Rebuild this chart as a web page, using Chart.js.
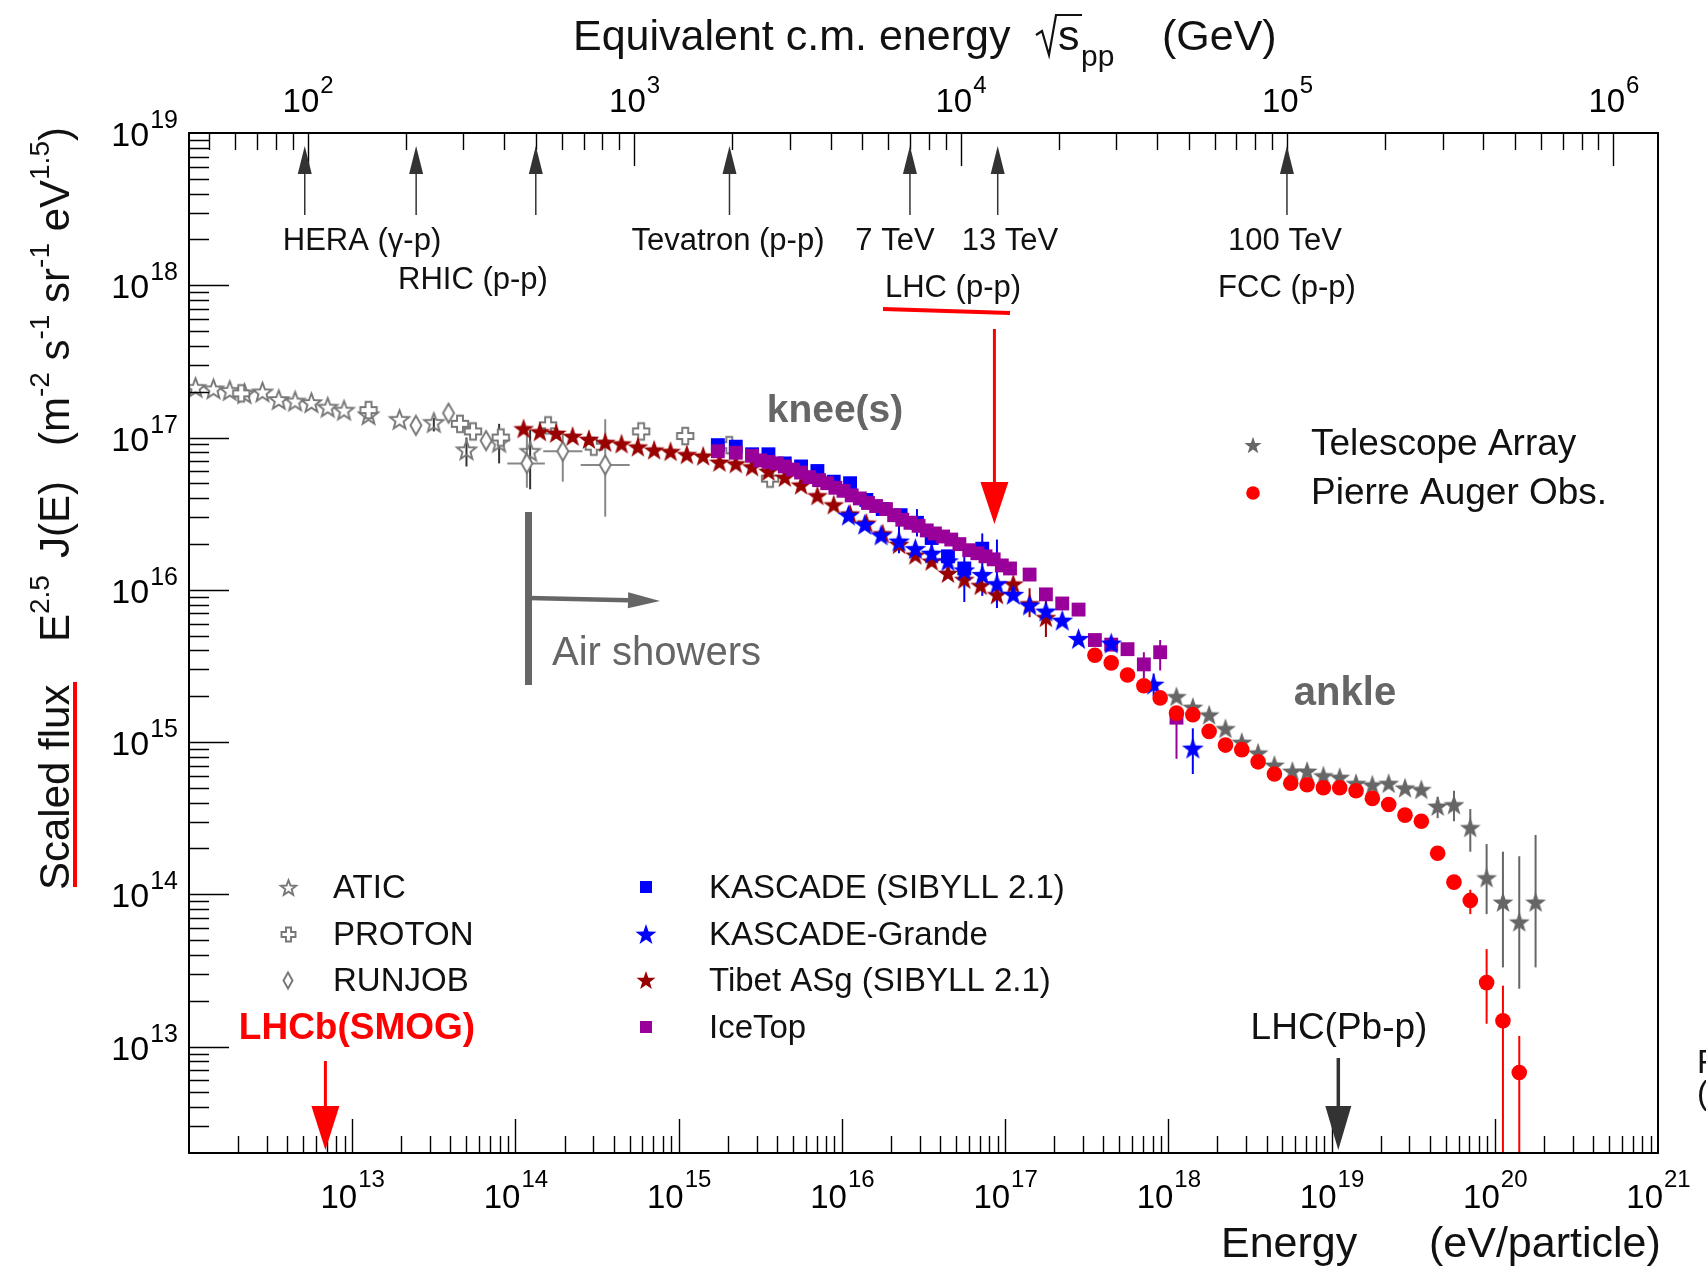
<!DOCTYPE html>
<html><head><meta charset="utf-8">
<script src="https://cdn.jsdelivr.net/npm/chart.js@4.4.1/dist/chart.umd.min.js"></script>
<style>html,body{margin:0;padding:0;background:#fff;}#wrap{width:1706px;height:1280px;position:relative;}</style>
</head><body><div id="wrap"><canvas id="c"></canvas></div>
<script>
const FONT = "'Liberation Sans', Arial, Helvetica, sans-serif";

// ---------- data: log10(E / eV) and log10(E^2.5 J(E)) ----------
const aticLogE = [12.04,12.15,12.25,12.34,12.45,12.55,12.65,12.75,12.85,12.95,13.10,13.29,13.50,13.70,13.90,14.09];
const aticLogF = [17.33,17.32,17.31,17.29,17.30,17.25,17.24,17.23,17.20,17.18,17.15,17.12,17.10,16.92,16.97,16.91];
const aticErrLogE = [13.50,13.70,13.90,14.09];
const aticErrLo  = [17.04,16.81,16.83,16.66];
const aticErrHi  = [17.13,17.00,17.09,17.05];

const protonLogE = [12.32,13.10,13.66,13.74,13.91,14.20,14.48,14.77,15.04,15.31,15.56];
const protonLogF = [17.29,17.18,17.09,17.04,17.00,17.08,16.94,17.04,17.01,16.95,16.73];

const runjobLogE = [13.39,13.59,13.82,14.07,14.29,14.55];
const runjobLogF = [17.08,17.16,16.98,16.83,16.91,16.82];
const runjobErrLogE = [13.82,14.07,14.29,14.55];
const runjobErrLo  = [16.93,16.67,16.71,16.48];
const runjobErrHi  = [17.04,17.01,17.04,17.12];
const runjobXErrLogF = [16.83,16.91,16.82];
const runjobXErrLo   = [13.95,14.17,14.40];
const runjobXErrHi   = [14.18,14.41,14.70];

const tibetLogE = [14.05,14.15,14.25,14.35,14.45,14.55,14.65,14.75,14.85,14.95,15.05,15.15,15.25,15.35,15.45,15.55,15.65,15.75,15.85,15.95,16.05,16.15,16.25,16.35,16.45,16.55,16.65,16.75,16.85,16.95,17.05,17.15,17.25];
const tibetLogF = [17.06,17.04,17.03,17.01,16.99,16.97,16.96,16.94,16.92,16.91,16.89,16.88,16.84,16.83,16.81,16.78,16.74,16.69,16.62,16.56,16.50,16.44,16.37,16.30,16.23,16.19,16.11,16.07,16.03,15.97,16.04,15.91,15.82];
const tibetErrLogE = [17.15,17.25];
const tibetErrLo  = [15.82,15.69];
const tibetErrHi  = [16.01,16.00];

const kascadeLogE = [15.24,15.35,15.45,15.55,15.65,15.75,15.85,15.95,16.05,16.15,16.25,16.36,16.46,16.55,16.65,16.75,16.86];
const kascadeLogF = [16.95,16.94,16.89,16.89,16.83,16.81,16.78,16.71,16.70,16.59,16.53,16.49,16.44,16.34,16.22,16.14,16.27];
const kascadeErrLogE = [16.46,16.55,16.86];
const kascadeErrLo  = [16.35,16.28,15.96];
const kascadeErrHi  = [16.53,16.42,16.37];

const grandeLogE = [16.04,16.14,16.24,16.35,16.45,16.55,16.65,16.75,16.86,16.95,17.05,17.15,17.25,17.35,17.45,17.65,17.91,18.15];
const grandeLogF = [16.49,16.43,16.36,16.32,16.27,16.24,16.19,16.13,16.10,16.04,15.97,15.90,15.86,15.80,15.68,15.65,15.38,14.96];
const grandeErrLogE = [16.35,16.75,16.95,17.91,18.15];
const grandeErrLo  = [16.24,15.92,15.88,15.30,14.79];
const grandeErrHi  = [16.42,16.31,16.33,15.45,15.09];

const icetopLogE = [15.24,15.35,15.45,15.50,15.55,15.60,15.65,15.70,15.75,15.80,15.86,15.91,15.96,16.01,16.06,16.11,16.16,16.21,16.27,16.32,16.37,16.42,16.47,16.52,16.57,16.62,16.67,16.72,16.78,16.83,16.88,16.93,16.98,17.03,17.15,17.25,17.35,17.45,17.55,17.65,17.75,17.85,17.95,18.05];
const icetopLogF = [16.91,16.90,16.88,16.85,16.84,16.83,16.81,16.79,16.77,16.74,16.72,16.70,16.67,16.65,16.62,16.60,16.57,16.55,16.53,16.49,16.46,16.44,16.42,16.39,16.37,16.35,16.33,16.30,16.26,16.24,16.22,16.20,16.16,16.14,16.10,15.97,15.91,15.87,15.67,15.64,15.61,15.51,15.59,15.16];
const icetopErrLogE = [17.85,17.95,18.05];
const icetopErrLo  = [15.42,15.47,14.89];
const icetopErrHi  = [15.59,15.67,15.20];

const taLogE = [18.05,18.15,18.25,18.35,18.45,18.55,18.65,18.76,18.85,18.95,19.05,19.15,19.25,19.35,19.45,19.55,19.65,19.75,19.85,19.95,20.05,20.15,20.25];
const taLogF = [15.30,15.23,15.18,15.09,15.00,14.93,14.85,14.81,14.81,14.78,14.77,14.73,14.72,14.73,14.70,14.69,14.58,14.59,14.44,14.11,13.95,13.82,13.95];
const taErrLogE = [19.65,19.75,19.85,19.95,20.05,20.15,20.25];
const taErrLo  = [14.50,14.48,14.28,13.87,13.52,13.38,13.52];
const taErrHi  = [14.64,14.68,14.56,14.33,14.28,14.25,14.39];

const augerLogE = [17.55,17.65,17.75,17.85,17.95,18.05,18.15,18.25,18.35,18.45,18.55,18.65,18.75,18.85,18.95,19.05,19.15,19.25,19.35,19.45,19.55,19.65,19.75,19.85,19.95,20.05,20.15];
const augerLogF = [15.57,15.52,15.44,15.37,15.29,15.19,15.18,15.07,14.98,14.95,14.87,14.79,14.73,14.72,14.70,14.70,14.68,14.63,14.59,14.52,14.48,14.27,14.08,13.96,13.42,13.17,12.83];
const augerErrLogE = [19.85,19.95,20.05,20.15];
const augerErrLo  = [13.87,13.15,12.00,12.00];
const augerErrHi  = [14.03,13.64,13.40,13.07];

// axis tick labels (exponents of 10)
const xTickExps = [13,14,15,16,17,18,19,20,21];
const yTickExps = [13,14,15,16,17,18,19];
const topTickExps = [2,3,4,5,6];

// collider reference energies (sqrt(s) in GeV) and special energies (eV)
const accelSqrtS = [98, 215, 500, 1960, 7000, 13000, 100000];
const lhcArrowE = 8.6e16, smogArrowE = 6.85e12, pbpArrowE = 1.1e19;

const SQS = E => Math.sqrt(2 * 0.938 * E / 1e9); // equivalent c.m. energy (GeV) for energy E (eV)
const pts = (le, lf) => le.map((v, i) => ({x: Math.pow(10, v), y: Math.pow(10, lf[i])}));

// ---------- marker images ----------
function mk(w, h, f){ const c = document.createElement('canvas'); c.width = w; c.height = h; f(c.getContext('2d'), w, h); return c; }
function starPath(g, cx, cy, R, r){ g.beginPath(); for (let i = 0; i < 10; i++){ const a = -Math.PI/2 + i*Math.PI/5, q = i % 2 ? r : R; g.lineTo(cx + q*Math.cos(a), cy + q*Math.sin(a)); } g.closePath(); }
function fStar(col, R){ const s = Math.ceil(2*R + 4); return mk(s, s, (g, w, h) => { starPath(g, w/2, h/2 + R*0.095, R, R*0.4); g.fillStyle = col; g.fill(); }); }
function oStar(col, R){ const s = Math.ceil(2*R + 5); return mk(s, s, (g, w, h) => { starPath(g, w/2, h/2 + R*0.095, R, R*0.42); g.strokeStyle = col; g.lineWidth = 1.9; g.stroke(); }); }
function oCross(col, a){ const s = Math.ceil(2*a + 5); return mk(s, s, (g, w, h) => { const cx = w/2, cy = h/2, b = a*0.36; g.beginPath();
  [[-b,-a],[b,-a],[b,-b],[a,-b],[a,b],[b,b],[b,a],[-b,a],[-b,b],[-a,b],[-a,-b],[-b,-b]].forEach(p => g.lineTo(cx + p[0], cy + p[1])); g.closePath();
  g.fillStyle = '#fff'; g.fill(); g.strokeStyle = col; g.lineWidth = 1.9; g.stroke(); }); }
function oDiam(col, a, b){ return mk(Math.ceil(2*a + 5), Math.ceil(2*b + 5), (g, w, h) => { const cx = w/2, cy = h/2; g.beginPath(); g.moveTo(cx, cy - b); g.lineTo(cx + a, cy); g.lineTo(cx, cy + b); g.lineTo(cx - a, cy); g.closePath();
  g.fillStyle = '#fff'; g.fill(); g.strokeStyle = col; g.lineWidth = 1.9; g.stroke(); }); }

const C = {atic:'#777777', tibet:'#990000', kascade:'#0000ff', icetop:'#990099', ta:'#666666', auger:'#ff0000'};
const imgAtic = oStar(C.atic, 10), imgProton = oCross(C.atic, 8.2), imgRunjob = oDiam(C.atic, 5.5, 9.5);
const imgTibet = fStar(C.tibet, 11), imgGrande = fStar(C.kascade, 11.5), imgTA = fStar(C.ta, 11);
const lgAtic = oStar(C.atic, 8), lgProton = oCross(C.atic, 7), lgRunjob = oDiam(C.atic, 4.5, 8);
const lgGrande = fStar(C.kascade, 11), lgTibet = fStar(C.tibet, 10), lgTA = fStar(C.ta, 9);

function ds(label, data, style, radius, color, order){ return {label, data, pointStyle: style, pointRadius: radius, pointHoverRadius: radius, backgroundColor: color, borderColor: color, borderWidth: 0, showLine: false, order}; }
const datasets = [
  ds('ATIC', pts(aticLogE, aticLogF), imgAtic, 10, C.atic, 9),
  ds('PROTON', pts(protonLogE, protonLogF), imgProton, 8, C.atic, 8),
  ds('RUNJOB', pts(runjobLogE, runjobLogF), imgRunjob, 8, C.atic, 7),
  ds('Tibet ASg (SIBYLL 2.1)', pts(tibetLogE, tibetLogF), imgTibet, 11, C.tibet, 6),
  ds('KASCADE (SIBYLL 2.1)', pts(kascadeLogE, kascadeLogF), 'rect', 9.8, C.kascade, 5),
  ds('IceTop', pts(icetopLogE, icetopLogF), 'rect', 9.8, C.icetop, 4),
  ds('KASCADE-Grande', pts(grandeLogE, grandeLogF), imgGrande, 11, C.kascade, 3),
  ds('Telescope Array', pts(taLogE, taLogF), imgTA, 11, C.ta, 2),
  ds('Pierre Auger Obs.', pts(augerLogE, augerLogF), 'circle', 7.8, C.auger, 1)
];

const errSets = [
  [aticErrLogE, aticErrLo, aticErrHi, '#333333'],
  [runjobErrLogE, runjobErrLo, runjobErrHi, '#888888'],
  [tibetErrLogE, tibetErrLo, tibetErrHi, C.tibet],
  [kascadeErrLogE, kascadeErrLo, kascadeErrHi, C.kascade],
  [grandeErrLogE, grandeErrLo, grandeErrHi, C.kascade],
  [icetopErrLogE, icetopErrLo, icetopErrHi, C.icetop],
  [taErrLogE, taErrLo, taErrHi, C.ta],
  [augerErrLogE, augerErrLo, augerErrHi, C.auger]
];

function arrow(ctx, x1, y1, x2, y2, col, lw, hl, hw){
  const a = Math.atan2(y2 - y1, x2 - x1), bx = x2 - hl*Math.cos(a), by = y2 - hl*Math.sin(a);
  ctx.strokeStyle = col; ctx.lineWidth = lw; ctx.beginPath(); ctx.moveTo(x1, y1); ctx.lineTo(bx, by); ctx.stroke();
  ctx.fillStyle = col; ctx.beginPath(); ctx.moveTo(x2, y2); ctx.lineTo(bx - hw*Math.sin(a), by + hw*Math.cos(a)); ctx.lineTo(bx + hw*Math.sin(a), by - hw*Math.cos(a)); ctx.closePath(); ctx.fill();
}
function pow10(ctx, x, y, exp, bs, ss, rise, align){
  ctx.font = bs + 'px ' + FONT; const wb = ctx.measureText('10').width;
  ctx.font = ss + 'px ' + FONT; const we = ctx.measureText(String(exp)).width;
  let x0 = align === 'right' ? x - wb - we : x - (wb + we)/2;
  ctx.textAlign = 'left'; ctx.textBaseline = 'alphabetic';
  ctx.font = bs + 'px ' + FONT; ctx.fillText('10', x0, y);
  ctx.font = ss + 'px ' + FONT; ctx.fillText(String(exp), x0 + wb + 1, y - rise);
}
function txt(ctx, s, x, y, size, col, align, bold){ ctx.font = (bold ? 'bold ' : '') + size + 'px ' + FONT; ctx.fillStyle = col; ctx.textAlign = align || 'left'; ctx.textBaseline = 'alphabetic'; ctx.fillText(s, x, y); }
function run(ctx, x, y, pieces){ // sequential text with super/subscripts
  let cx = x;
  pieces.forEach(p => { if (p.at !== undefined) cx = x + p.at; ctx.font = p.s + 'px ' + FONT; ctx.textAlign = 'left'; ctx.textBaseline = 'alphabetic'; ctx.fillText(p.t, cx, y - (p.r || 0)); cx += ctx.measureText(p.t).width; });
}

const errPlugin = {
  id: 'errbars',
  beforeDatasetsDraw(chart){
    const ctx = chart.ctx, X = chart.scales.x, Y = chart.scales.y, ca = chart.chartArea;
    ctx.save(); ctx.beginPath(); ctx.rect(ca.left, ca.top, ca.right - ca.left, ca.bottom - ca.top); ctx.clip();
    ctx.lineWidth = 2;
    errSets.forEach(([le, lo, hi, col]) => { ctx.strokeStyle = col; le.forEach((e, i) => { const px = X.getPixelForValue(Math.pow(10, e));
      ctx.beginPath(); ctx.moveTo(px, Y.getPixelForValue(Math.pow(10, lo[i]))); ctx.lineTo(px, Y.getPixelForValue(Math.pow(10, hi[i]))); ctx.stroke(); }); });
    ctx.strokeStyle = '#888888';
    runjobXErrLogF.forEach((f, i) => { const py = Y.getPixelForValue(Math.pow(10, f));
      ctx.beginPath(); ctx.moveTo(X.getPixelForValue(Math.pow(10, runjobXErrLo[i])), py); ctx.lineTo(X.getPixelForValue(Math.pow(10, runjobXErrHi[i])), py); ctx.stroke(); });
    ctx.restore();
  }
};

const decorPlugin = {
  id: 'decor',
  afterDraw(chart){
    const ctx = chart.ctx, X = chart.scales.x, XS = chart.scales.xs, Y = chart.scales.y, ca = chart.chartArea;
    ctx.save();
    // frame
    ctx.strokeStyle = '#000'; ctx.lineWidth = 2; ctx.strokeRect(ca.left, ca.top, ca.right - ca.left, ca.bottom - ca.top);
    // inward ticks
    ctx.lineWidth = 1.4; ctx.beginPath();
    for (let d = 12; d <= 20; d++) for (let m = 1; m <= 9; m++){ const v = m*Math.pow(10, d); if (v < X.min*1.0001 || v > X.max*0.9999) continue; const p = Math.round(X.getPixelForValue(v)) + 0.5; ctx.moveTo(p, ca.bottom); ctx.lineTo(p, ca.bottom - (m === 1 ? 34 : 17)); }
    for (let d = 1; d <= 6; d++) for (let m = 1; m <= 9; m++){ const v = m*Math.pow(10, d); if (v < XS.min*1.0001 || v > XS.max*0.9999) continue; const p = Math.round(XS.getPixelForValue(v)) + 0.5; ctx.moveTo(p, ca.top); ctx.lineTo(p, ca.top + (m === 1 ? 33 : 17)); }
    for (let d = 12; d <= 18; d++) for (let m = 1; m <= 9; m++){ const v = m*Math.pow(10, d); if (v < Y.min*1.0001 || v > Y.max*0.9999) continue; const p = Math.round(Y.getPixelForValue(v)) + 0.5; ctx.moveTo(ca.left, p); ctx.lineTo(ca.left + (m === 1 ? 40 : 20), p); }
    ctx.stroke();
    // tick labels
    ctx.fillStyle = '#000';
    xTickExps.forEach(n => pow10(ctx, X.getPixelForValue(Math.pow(10, n)), 1208, n, 33, 24, 21, 'center'));
    topTickExps.forEach(n => pow10(ctx, XS.getPixelForValue(Math.pow(10, n)), 112, n, 33, 24, 19, 'center'));
    yTickExps.forEach(n => pow10(ctx, 177, Y.getPixelForValue(Math.pow(10, n)) + 13, n, 34, 25, 18, 'right'));
    // axis titles
    ctx.fillStyle = '#111';
    run(ctx, 573, 50, [{t:'Equivalent c.m. energy', s:43}]);
    ctx.strokeStyle = '#111'; ctx.lineWidth = 2.2; ctx.beginPath(); ctx.moveTo(1036, 35); ctx.lineTo(1042, 31); ctx.lineTo(1049, 55); ctx.lineTo(1056, 15); ctx.lineTo(1082, 15); ctx.stroke();
    run(ctx, 1058, 50, [{t:'s', s:43}]);
    run(ctx, 1081, 66, [{t:'pp', s:30}]);
    run(ctx, 1162, 50, [{t:'(GeV)', s:43}]);
    run(ctx, 1221, 1257, [{t:'Energy', s:43}]);
    run(ctx, 1429, 1257, [{t:'(eV/particle)', s:43}]);
    ctx.save(); ctx.translate(69, 890); ctx.rotate(-Math.PI/2);
    run(ctx, 0, 0, [{t:'Scaled flux', s:42, at:0}, {t:'E', s:42, at:248}, {t:'2.5', s:28, r:20}, {t:'J(E)', s:42, at:332},
      {t:'(m', s:42, at:444}, {t:'-2', s:28, r:20}, {t:' s', s:42}, {t:'-1', s:28, r:20}, {t:' sr', s:42}, {t:'-1', s:28, r:20}, {t:' eV', s:42}, {t:'1.5', s:28, r:20}, {t:')', s:42}]);
    ctx.restore();
    ctx.strokeStyle = '#ff0000'; ctx.lineWidth = 4; ctx.beginPath(); ctx.moveTo(75, 682); ctx.lineTo(75, 887); ctx.stroke();
    // collider arrows (top)
    accelSqrtS.forEach(s => { const px = XS.getPixelForValue(s); arrow(ctx, px, 215, px, 146, '#333', 1.5, 28, 7); });
    const lab = [['HERA (\u03b3-p)', 362, 250], ['RHIC (p-p)', 473, 289], ['Tevatron (p-p)', 728, 250], ['7 TeV', 895, 250], ['13 TeV', 1010, 250], ['LHC (p-p)', 953, 297], ['100 TeV', 1285, 250], ['FCC (p-p)', 1287, 297]];
    lab.forEach(l => txt(ctx, l[0], l[1], l[2], 31, '#111', 'center'));
    ctx.strokeStyle = '#ff0000'; ctx.lineWidth = 4; ctx.beginPath(); ctx.moveTo(883, 309); ctx.lineTo(1010, 313); ctx.stroke();
    const lx = X.getPixelForValue(lhcArrowE); arrow(ctx, lx, 329, lx, 524, '#ff0000', 3, 42, 14);
    // region labels
    txt(ctx, 'knee(s)', 835, 422, 39, '#666', 'center', true);
    txt(ctx, 'ankle', 1345, 705, 40, '#666', 'center', true);
    txt(ctx, 'Air showers', 552, 665, 40, '#666', 'left');
    ctx.fillStyle = '#666'; ctx.fillRect(525, 512, 7, 173);
    arrow(ctx, 529, 598, 660, 601, '#666', 4.5, 32, 8);
    // bottom arrows
    txt(ctx, 'LHCb(SMOG)', 357, 1039, 37, '#ff0000', 'center', true);
    const sx = X.getPixelForValue(smogArrowE); arrow(ctx, sx, 1061, sx, 1150, '#ff0000', 3, 44, 14);
    txt(ctx, 'LHC(Pb-p)', 1339, 1039, 37, '#111', 'center');
    const bx = X.getPixelForValue(pbpArrowE); arrow(ctx, bx, 1058, bx, 1150, '#333', 3.5, 44, 13);
    txt(ctx, 'F', 1697, 1073, 33, '#111', 'left');
    txt(ctx, '(', 1697, 1104, 33, '#111', 'left');
    // legends
    const img = (im, x, y) => ctx.drawImage(im, Math.round(x - im.width/2), Math.round(y - im.height/2));
    img(lgTA, 1253, 445); txt(ctx, 'Telescope Array', 1311, 455, 37, '#111');
    ctx.fillStyle = C.auger; ctx.beginPath(); ctx.arc(1253, 493, 6.8, 0, 2*Math.PI); ctx.fill(); txt(ctx, 'Pierre Auger Obs.', 1311, 504, 37, '#111');
    const rows = [898, 945, 991, 1038];
    img(lgAtic, 288, rows[0] - 11); txt(ctx, 'ATIC', 333, rows[0], 33, '#111');
    img(lgProton, 288, rows[1] - 11); txt(ctx, 'PROTON', 333, rows[1], 33, '#111');
    img(lgRunjob, 288, rows[2] - 11); txt(ctx, 'RUNJOB', 333, rows[2], 33, '#111');
    ctx.fillStyle = C.kascade; ctx.fillRect(640, rows[0] - 17, 12, 12); txt(ctx, 'KASCADE (SIBYLL 2.1)', 709, rows[0], 33, '#111');
    img(lgGrande, 646, rows[1] - 11); txt(ctx, 'KASCADE-Grande', 709, rows[1], 33, '#111');
    img(lgTibet, 646, rows[2] - 11); txt(ctx, 'Tibet ASg (SIBYLL 2.1)', 709, rows[2], 33, '#111');
    ctx.fillStyle = C.icetop; ctx.fillRect(640, rows[3] - 17, 12, 12); txt(ctx, 'IceTop', 709, rows[3], 33, '#111');
    ctx.restore();
  }
};

const hide = {grid: {display: false}, border: {display: false}, ticks: {display: false}, title: {display: false}};
new Chart(document.getElementById('c'), {
  type: 'scatter',
  data: {datasets},
  options: {
    responsive: true, maintainAspectRatio: false, animation: false, devicePixelRatio: 1,
    layout: {padding: {left: 0, right: 48, top: 0, bottom: 0}},
    plugins: {legend: {display: false}, tooltip: {enabled: false}},
    scales: {
      x: Object.assign({type: 'logarithmic', position: 'bottom', min: 1e12, max: 1e21, display: true, afterFit: s => { s.height = 127; }}, hide),
      xs: Object.assign({type: 'logarithmic', position: 'top', min: SQS(1e12), max: SQS(1e21), display: true, afterFit: s => { s.height = 133; }}, hide),
      y: Object.assign({type: 'logarithmic', position: 'left', min: 2e12, max: 1e19, display: true, afterFit: s => { s.width = 189; }}, hide)
    }
  },
  plugins: [errPlugin, decorPlugin]
});
</script></body></html>
